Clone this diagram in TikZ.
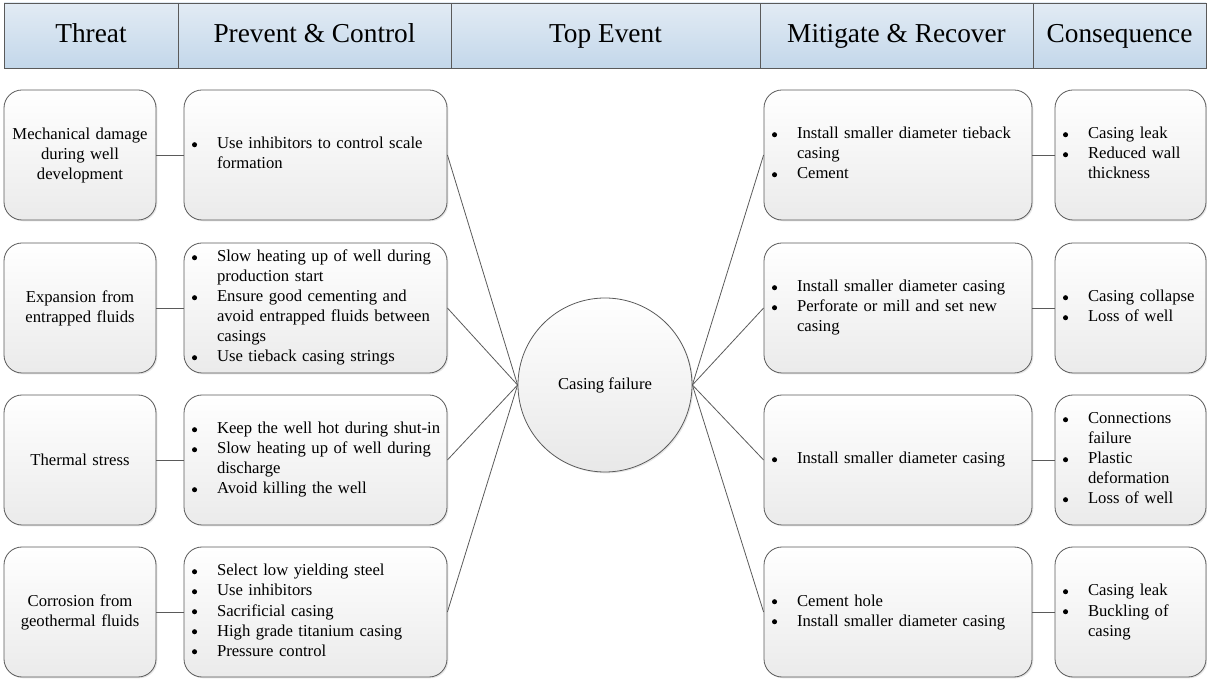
\documentclass[tikz,border=0pt]{standalone}
\usepackage{fontspec}
\setmainfont{Liberation Serif}
\usetikzlibrary{shadows}
\newlength\px
\setlength\px{0.75pt}
\definecolor{hdrtop}{HTML}{E2EBF4}
\definecolor{hdrbot}{HTML}{C3D7EA}
\definecolor{edge}{HTML}{5A5A5A}
\newcommand\bul{\tikz[baseline=-3.2pt]\fill[black] (0,0) circle (1.9pt);}
\newcommand\blist[1]{\begin{tabular}{@{}p{25\px}@{}l@{}}#1\end{tabular}}
\tikzset{
	hdr/.style={draw=edge, line width=0.6pt, top color=hdrtop, bottom color=hdrbot,
		minimum height=65\px, inner sep=0pt, text height=14pt, text depth=4pt,
		font=\fontsize{20.5}{24}\selectfont},
	card/.style={draw=edge, line width=0.6pt, rounded corners=18\px,
		top color=white, bottom color=gray!16,
		drop shadow={opacity=0.2, shadow xshift=1pt, shadow yshift=-1pt},
		minimum height=130\px, inner ysep=0pt, font=\fontsize{12.5}{15}\selectfont},
	threat/.style={card, minimum width=152\px, text width=140\px, inner xsep=6\px, align=center},
	barrier/.style={card, minimum width=263\px, text width=247\px, inner xsep=8\px, align=left},
	recover/.style={card, minimum width=268\px, text width=252\px, inner xsep=8\px, align=left},
	conseq/.style={card, minimum width=151\px, text width=135\px, inner xsep=8\px, align=left},
	link/.style={draw=edge, line width=0.6pt}
}
\begin{document}
\begin{tikzpicture}[x=\px,y=-\px]
	\useasboundingbox (0,0) rectangle (1207,680);
	%\draw[lightgray] (0,0) grid[step=100] (1207,680);
	% header
	\node[hdr, minimum width=174\px] (hthreat) at (91,35.5) {Threat};
	\node[hdr, minimum width=273\px] (hprev) at (314.5,35.5) {Prevent \& Control};
	\node[hdr, minimum width=309\px] (htop) at (605.5,35.5) {Top Event};
	\node[hdr, minimum width=273\px] (hmit) at (896.5,35.5) {Mitigate \& Recover};
	\node[hdr, minimum width=173\px] (hcons) at (1119.5,35.5) {Consequence};

	% top event
	\node[circle, draw=edge, line width=0.6pt, top color=white, bottom color=gray!18,
		drop shadow={opacity=0.2, shadow xshift=1pt, shadow yshift=-1pt},
		minimum size=174\px, font=\fontsize{12.5}{15}\selectfont] (tev) at (605,385) {Casing failure};

	% threats
	\node[threat] (t1) at (80,155) {Mechanical damage\\during well\\development};
	\node[threat] (t2) at (80,308) {Expansion from\\entrapped fluids};
	\node[threat] (t3) at (80,460) {Thermal stress};
	\node[threat] (t4) at (80,612) {Corrosion from\\geothermal fluids};

	% preventive barriers
	\node[barrier] (p1) at (315.5,155) {\blist{\bul & Use inhibitors to control scale\\ & formation}};
	\node[barrier] (p2) at (315.5,308) {\blist{\bul & Slow heating up of well during\\ & production start\\
		\bul & Ensure good cementing and\\ & avoid entrapped fluids between\\ & casings\\
		\bul & Use tieback casing strings}};
	\node[barrier] (p3) at (315.5,460) {\blist{\bul & Keep the well hot during shut-in\\
		\bul & Slow heating up of well during\\ & discharge\\
		\bul & Avoid killing the well}};
	\node[barrier] (p4) at (315.5,612) {\blist{\bul & Select low yielding steel\\
		\bul & Use inhibitors\\ \bul & Sacrificial casing\\
		\bul & High grade titanium casing\\ \bul & Pressure control}};

	% recovery measures
	\node[recover] (m1) at (898,155) {\blist{\bul & Install smaller diameter tieback\\ & casing\\
		\bul & Cement}};
	\node[recover] (m2) at (898,308) {\blist{\bul & Install smaller diameter casing\\
		\bul & Perforate or mill and set new\\ & casing}};
	\node[recover] (m3) at (898,460) {\blist{\bul & Install smaller diameter casing}};
	\node[recover] (m4) at (898,612) {\blist{\bul & Cement hole\\
		\bul & Install smaller diameter casing}};

	% consequences
	\node[conseq] (c1) at (1130.5,155) {\blist{\bul & Casing leak\\
		\bul & Reduced wall\\ & thickness}};
	\node[conseq] (c2) at (1130.5,308) {\blist{\bul & Casing collapse\\
		\bul & Loss of well}};
	\node[conseq] (c3) at (1130.5,460) {\blist{\bul & Connections\\ & failure\\
		\bul & Plastic\\ & deformation\\ \bul & Loss of well}};
	\node[conseq] (c4) at (1130.5,612) {\blist{\bul & Casing leak\\
		\bul & Buckling of\\ & casing}};

	% connectors
	\draw[link] (t1) -- (p1);
	\draw[link] (t2) -- (p2);
	\draw[link] (t3) -- (p3);
	\draw[link] (t4) -- (p4);
	\draw[link] (p1.east) -- (tev.west);
	\draw[link] (p2.east) -- (tev.west);
	\draw[link] (p3.east) -- (tev.west);
	\draw[link] (p4.east) -- (tev.west);
	\draw[link] (tev.east) -- (m1.west);
	\draw[link] (tev.east) -- (m2.west);
	\draw[link] (tev.east) -- (m3.west);
	\draw[link] (tev.east) -- (m4.west);
	\draw[link] (m1) -- (c1);
	\draw[link] (m2) -- (c2);
	\draw[link] (m3) -- (c3);
	\draw[link] (m4) -- (c4);
\end{tikzpicture}
\end{document}
